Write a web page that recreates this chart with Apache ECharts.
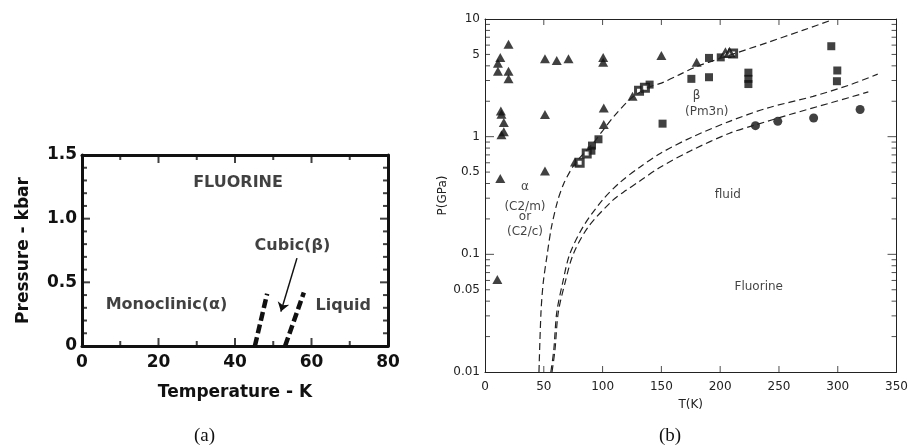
<!DOCTYPE html>
<html>
<head>
<meta charset="utf-8">
<title>Fluorine phase diagrams</title>
<script src="https://cdn.jsdelivr.net/npm/echarts@6/dist/echarts.min.js"></script>
<style>
  html, body { margin: 0; padding: 0; }
  #chart { width: 911px; height: 448px; }
</style>
</head>
<body>
<div id="chart"></div>
<script>
// ---- (a) low-pressure diagram: phase boundaries, T in K, P in kbar ----
const alphaBetaA = [[45.2, 0], [48.4, 0.41]];
const betaLiquidA = [[53.1, 0], [58.0, 0.42]];
const arrowA = [[56.2, 0.69], [52.0, 0.27]];

// ---- (b) high-pressure diagram: T in K, P in GPa ----
const triangleB = [
  [11, 4.2], [13, 4.7], [11, 3.6], [20, 6.1], [20, 3.6], [20, 3.1],
  [13.5, 1.65], [14, 1.55], [16, 1.32], [16, 1.1], [14, 1.04], [13, 0.44],
  [10.5, 0.061], [51, 4.6], [61, 4.45], [71, 4.6], [100.5, 4.7], [100.5, 4.3],
  [51, 1.54], [51, 0.51], [101, 1.75], [101, 1.27], [76.5, 0.61], [125.5, 2.2],
  [150, 4.9], [180, 4.28]
];
const squareB = [
  [90.5, 0.76], [91, 0.84], [96.5, 0.95], [140, 2.77], [151, 1.29],
  [175.5, 3.1], [190.5, 3.2], [190.5, 4.67], [200.5, 4.72],
  [224, 3.5], [224, 3.1], [224, 2.8], [294.5, 5.87], [299.6, 3.65], [299.3, 2.96]
];
const openSquareB = [[80.5, 0.6], [86.5, 0.72], [131, 2.45], [136, 2.6], [211, 5.1]];
const openTriangleB = [[204.5, 5.1], [208, 5.15]];
const circleB = [[230, 1.24], [249, 1.35], [279.5, 1.44], [319, 1.7]];

const curveAlphaBeta = [
  [45.9, 0.01], [47.6, 0.032], [49.5, 0.057], [52.9, 0.1], [56.5, 0.17],
  [62, 0.29], [67, 0.4], [72, 0.5], [77, 0.6], [85, 0.74], [92, 0.88],
  [100, 1.12], [110, 1.5], [125, 2.15], [140, 2.65], [150, 2.85], [165, 3.35],
  [180, 3.95], [195, 4.45], [210, 5.0], [240, 6.3], [270, 8.0], [296, 9.9]
];
const curveMeltUpper = [
  [56, 0.01], [58.5, 0.0154], [61, 0.032], [66, 0.057], [72, 0.1],
  [83.5, 0.172], [100, 0.29], [115, 0.41], [131, 0.545], [149, 0.72],
  [175, 0.98], [208, 1.35], [240, 1.75], [279, 2.2], [310, 2.75], [334, 3.4]
];
const curveMeltLower = [
  [57, 0.01], [59.5, 0.0154], [62.3, 0.032], [68, 0.057], [75, 0.1],
  [88, 0.172], [109, 0.29], [120, 0.35], [131, 0.415], [149, 0.55], [175, 0.76],
  [208, 1.07], [229, 1.25], [260, 1.55], [295, 1.95], [326, 2.4]
];

const pTickValues = [0.01, 0.05, 0.1, 0.5, 1, 5, 10];
const pTickLabels = ['0.01', '0.05', '0.1', '0.5', '1', '5', '10'];

// ---- axis ranges and tick positions ----
const TA_MIN = 0, TA_MAX = 80, PA_MIN = 0, PA_MAX = 1.5;
const TB_MIN = 0, TB_MAX = 350, PB_MIN = 0.01, PB_MAX = 10;

const tTicksA = [10, 20, 30, 40, 50, 60, 70];
const pTicksA = [];
for (let k = 1; k <= 14; k++) pTicksA.push(k / 10);
const tTicksB = [50, 100, 150, 200, 250, 300];
const pDecadesB = [0.1, 1];
const pMinorB = [];
[0.01, 0.1, 1].forEach(function (d) {
  for (let m = 2; m <= 9; m++) pMinorB.push(+(m * d).toPrecision(3));
});

// ---- shared styling ----
const INK = '#111';
const GRAY = '#222';
const FONT = 'DejaVu Sans';

// inward tick marks drawn as thin rect symbols anchored on the frame
function tickSeries(xi, yi, pts, side, len, w, color) {
  const vertical = side === 'bottom' || side === 'top';
  const off = { bottom: [0, -len / 2], top: [0, len / 2], left: [len / 2, 0], right: [-len / 2, 0] }[side];
  return {
    type: 'scatter', xAxisIndex: xi, yAxisIndex: yi, data: pts, symbol: 'rect',
    symbolSize: vertical ? [w, len] : [len, w], symbolOffset: off,
    itemStyle: { color: color }, clip: false, silent: true, z: 3
  };
}
function framesTicks() {
  const out = [];
  const longT = tTicksA.filter(function (t) { return t % 20 === 0; });
  const shortT = tTicksA.filter(function (t) { return t % 20 !== 0; });
  const longP = pTicksA.filter(function (p, i) { return (i + 1) % 5 === 0; });
  const shortP = pTicksA.filter(function (p, i) { return (i + 1) % 5 !== 0; });
  [[longT, 8], [shortT, 5]].forEach(function (g) {
    out.push(tickSeries(0, 0, g[0].map(function (t) { return [t, PA_MIN]; }), 'bottom', g[1], 2, INK));
    out.push(tickSeries(0, 0, g[0].map(function (t) { return [t, PA_MAX]; }), 'top', g[1], 2, INK));
  });
  [[longP, 8], [shortP, 5]].forEach(function (g) {
    out.push(tickSeries(0, 0, g[0].map(function (p) { return [TA_MIN, p]; }), 'left', g[1], 2, INK));
    out.push(tickSeries(0, 0, g[0].map(function (p) { return [TA_MAX, p]; }), 'right', g[1], 2, INK));
  });
  out.push(tickSeries(2, 2, tTicksB.map(function (t) { return [t, PB_MIN]; }), 'bottom', 6, 1, GRAY));
  out.push(tickSeries(2, 2, tTicksB.map(function (t) { return [t, PB_MAX]; }), 'top', 6, 1, GRAY));
  [[pDecadesB, 9], [pMinorB, 5]].forEach(function (g) {
    out.push(tickSeries(2, 2, g[0].map(function (p) { return [TB_MIN, p]; }), 'left', g[1], 1, GRAY));
    out.push(tickSeries(2, 2, g[0].map(function (p) { return [TB_MAX, p]; }), 'right', g[1], 1, GRAY));
  });
  return out;
}

function renderPLabel(params, api) {
  const pt = api.coord([TB_MIN, api.value(1)]);
  return {
    type: 'text', x: pt[0] - 5, y: pt[1],
    style: {
      text: pTickLabels[params.dataIndex], fill: GRAY, align: 'right',
      verticalAlign: 'middle', font: '12px "' + FONT + '"'
    }
  };
}

function notes(items, xi, yi, size, weight) {
  return {
    type: 'scatter', xAxisIndex: xi, yAxisIndex: yi, symbolSize: 0,
    data: items.map(function (it) {
      return {
        value: it.at,
        label: {
          show: true, formatter: it.text, position: [0, 0], align: 'center',
          verticalAlign: 'middle', color: INK, fontFamily: FONT,
          fontSize: size, fontWeight: weight
        }
      };
    })
  };
}

// frame axes of panel (a): heavy lines
function axisA(extra) {
  return Object.assign({
    gridIndex: 0, type: 'value', splitLine: { show: false },
    axisLine: { show: true, onZero: false, lineStyle: { color: INK, width: 3 } },
    axisTick: { show: false }, axisLabel: { show: false }
  }, extra);
}
// frame axes of panel (b): thin lines
function axisB(extra) {
  return Object.assign({
    gridIndex: 1, splitLine: { show: false },
    axisLine: { show: true, onZero: false, lineStyle: { color: GRAY, width: 1 } },
    axisTick: { show: false }, axisLabel: { show: false }
  }, extra);
}
function labelA(extra) {
  return Object.assign({ show: true, color: INK, fontFamily: FONT, fontWeight: 'bold', fontSize: 17 }, extra);
}

const option = {
  animation: false,
  backgroundColor: '#fff',
  grid: [
    { left: 82, top: 155, width: 306, height: 191 },
    { left: 485, top: 19, width: 412, height: 353 }
  ],
  xAxis: [
    axisA({
      position: 'bottom', min: TA_MIN, max: TA_MAX, interval: 20,
      axisLabel: labelA({ margin: 8 }),
      name: 'Temperature - K', nameLocation: 'middle', nameGap: 38,
      nameTextStyle: { color: INK, fontFamily: FONT, fontWeight: 'bold', fontSize: 17 }
    }),
    axisA({ position: 'top', min: TA_MIN, max: TA_MAX, interval: 20 }),
    axisB({
      type: 'value', position: 'bottom', min: TB_MIN, max: TB_MAX, interval: 50,
      axisLabel: { show: true, color: GRAY, fontFamily: FONT, fontSize: 12, margin: 9 },
      name: 'T(K)', nameLocation: 'middle', nameGap: 27,
      nameTextStyle: { color: GRAY, fontFamily: FONT, fontSize: 12 }
    }),
    axisB({ type: 'value', position: 'top', min: TB_MIN, max: TB_MAX, interval: 50 })
  ],
  yAxis: [
    axisA({
      position: 'left', min: PA_MIN, max: PA_MAX, interval: 0.5,
      axisLabel: labelA({
        margin: 5,
        formatter: function (v) { return v === 0 ? '0' : v.toFixed(1); }
      }),
      name: 'Pressure - kbar', nameLocation: 'middle', nameGap: 50, nameRotate: 90,
      nameTextStyle: { color: INK, fontFamily: FONT, fontWeight: 'bold', fontSize: 17 }
    }),
    axisA({ position: 'right', min: PA_MIN, max: PA_MAX, interval: 0.5 }),
    axisB({
      type: 'log', logBase: 10, min: PB_MIN, max: PB_MAX, position: 'left',
      name: 'P(GPa)', nameLocation: 'middle', nameGap: 36, nameRotate: 90,
      nameTextStyle: { color: GRAY, fontFamily: FONT, fontSize: 12 }
    }),
    axisB({ type: 'log', logBase: 10, min: PB_MIN, max: PB_MAX, position: 'right' })
  ],
  series: [
    // (a) phase boundaries
    {
      type: 'line', xAxisIndex: 0, yAxisIndex: 0, data: alphaBetaA, symbol: 'none',
      lineStyle: { color: INK, width: 4.5, type: [9, 4] }
    },
    {
      type: 'line', xAxisIndex: 0, yAxisIndex: 0, data: betaLiquidA, symbol: 'none',
      lineStyle: { color: INK, width: 4.5, type: [9, 4] }
    },
    {
      type: 'lines', coordinateSystem: 'cartesian2d', xAxisIndex: 0, yAxisIndex: 0,
      symbol: ['none', 'arrow'], symbolSize: 9,
      lineStyle: { color: INK, width: 1.5, opacity: 1 },
      data: [{ coords: arrowA }]
    },
    notes([
      { text: 'FLUORINE', at: [40.8, 1.28] },
      { text: 'Cubic(β)', at: [55.0, 0.785] },
      { text: 'Monoclinic(α)', at: [22.1, 0.32] },
      { text: 'Liquid', at: [68.3, 0.317] }
    ], 0, 0, 16, 'bold'),

    // (b) log-axis labels
    {
      type: 'custom', xAxisIndex: 2, yAxisIndex: 2, clip: false,
      data: pTickValues.map(function (p) { return [TB_MIN, p]; }), renderItem: renderPLabel
    },

    // (b) boundaries
    {
      type: 'line', xAxisIndex: 2, yAxisIndex: 2, data: curveAlphaBeta, symbol: 'none',
      smooth: 0.3, lineStyle: { color: GRAY, width: 1.2, type: [7, 4] }
    },
    {
      type: 'line', xAxisIndex: 2, yAxisIndex: 2, data: curveMeltUpper, symbol: 'none',
      smooth: 0.3, lineStyle: { color: GRAY, width: 1.2, type: [7, 4] }
    },
    {
      type: 'line', xAxisIndex: 2, yAxisIndex: 2, data: curveMeltLower, symbol: 'none',
      smooth: 0.3, lineStyle: { color: GRAY, width: 1.2, type: [7, 4] }
    },
    // (b) measurements
    {
      type: 'scatter', xAxisIndex: 2, yAxisIndex: 2, data: triangleB, symbol: 'triangle',
      symbolSize: [10, 9], itemStyle: { color: INK }
    },
    {
      type: 'scatter', xAxisIndex: 2, yAxisIndex: 2, data: squareB, symbol: 'rect',
      symbolSize: 8, itemStyle: { color: INK }
    },
    {
      type: 'scatter', xAxisIndex: 2, yAxisIndex: 2, data: openSquareB, symbol: 'rect',
      symbolSize: 7, itemStyle: { color: '#fff', borderColor: INK, borderWidth: 3 }
    },
    {
      type: 'scatter', xAxisIndex: 2, yAxisIndex: 2, data: openTriangleB, symbol: 'triangle',
      symbolSize: [8, 7], itemStyle: { color: '#fff', borderColor: INK, borderWidth: 2.5 }
    },
    {
      type: 'scatter', xAxisIndex: 2, yAxisIndex: 2, data: circleB, symbol: 'circle',
      symbolSize: 9, itemStyle: { color: INK }
    },
    notes([
      { text: 'α', at: [34, 0.375] },
      { text: '(C2/m)', at: [34, 0.254] },
      { text: 'or', at: [34, 0.209] },
      { text: '(C2/c)', at: [34, 0.155] },
      { text: 'β', at: [180, 2.23] },
      { text: '(Pm3n)', at: [188.6, 1.63] },
      { text: 'fluid', at: [206.5, 0.321] },
      { text: 'Fluorine', at: [232.8, 0.0529] }
    ], 2, 2, 12, 'normal')
  ].concat(framesTicks()),
  graphic: [
    { type: 'text', left: 194, top: 427,
      style: { text: '(a)', fill: INK, font: '19px "Liberation Serif", serif' } },
    { type: 'text', left: 659, top: 427,
      style: { text: '(b)', fill: INK, font: '19px "Liberation Serif", serif' } }
  ]
};

const chart = echarts.init(document.getElementById('chart'));
chart.setOption(option);
</script>
</body>
</html>
